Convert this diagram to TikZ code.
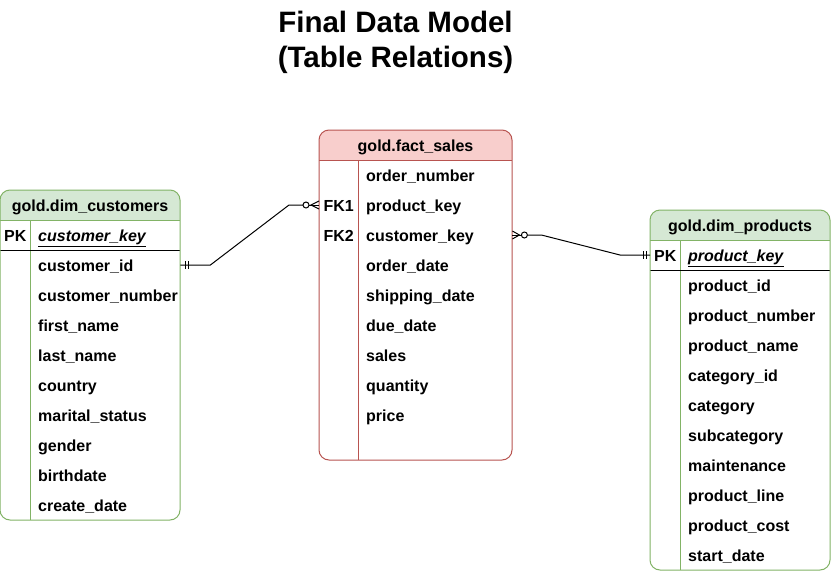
\documentclass[tikz,border=0pt]{standalone}
\usepackage{fontspec}
\setmainfont{Liberation Sans}
\usetikzlibrary{calc,positioning}

\definecolor{custfill}{HTML}{D5E8D4}
\definecolor{custline}{HTML}{82B366}
\definecolor{factfill}{HTML}{F8CECC}
\definecolor{factline}{HTML}{B85450}

\newcommand{\fieldfont}{\fontsize{16}{19}\selectfont\bfseries}

\begin{document}
\begin{tikzpicture}[x=1pt,y=-1pt,
    field/.style={anchor=west, inner xsep=0pt, inner ysep=0pt, align=left,
        text width=#1, text height=13.5pt, text depth=1.5pt,
        execute at begin node=\hspace*{8pt}, font=\fieldfont},
    keycell/.style={anchor=west, minimum width=#1, inner sep=0pt,
        text height=13.5pt, text depth=1.5pt, font=\fieldfont},
    head/.style={font=\fieldfont, inner sep=0pt, text height=13.5pt, text depth=1.5pt},
    conn/.style={line width=1pt, black},
    notch/.style={line width=1pt, black}]

    \fill[white] (0,0) rectangle (831,571);
    \useasboundingbox (0,0) rectangle (831,571);

    % title
    \node[align=center, font=\fontsize{29.5}{35}\selectfont\bfseries] (title) at (395.5,42)
        {Final Data Model\\(Table Relations)};

    % gold.dim_customers
    \begin{scope}
        \clip[rounded corners=10pt] (0,190) rectangle (180,520);
        \fill[custfill] (0,190) rectangle (180,220);
    \end{scope}
    \draw[custline, line width=1pt] (0,220) -- (180,220);
    \draw[custline, line width=1pt] (30,220) -- (30,520);
    \draw[black, line width=1pt] (0,250) -- (180,250);
    \draw[custline, line width=1pt, rounded corners=10pt] (0,190) rectangle (180,520);
    \node[head] (custhead) at (90,205) {gold.dim\_customers};
    \node[keycell=30pt] (custpk) at (0,235) {PK};
    \node[field=150pt] (custkey) at (30,235) {\underline{\textit{customer\_key}}};
    \foreach \txt [count=\i] in {customer\_id, customer\_number, first\_name, last\_name,
        country, marital\_status, gender, birthdate, create\_date}
        \node[field=150pt] (cust\i) at (30,235+30*\i) {\txt};

    % gold.fact_sales
    \begin{scope}
        \clip[rounded corners=10pt] (319,130) rectangle (512,460);
        \fill[factfill] (319,130) rectangle (512,160);
    \end{scope}
    \draw[factline, line width=1pt] (319,160) -- (512,160);
    \draw[factline, line width=1pt] (358,160) -- (358,460);
    \draw[factline, line width=1pt, rounded corners=10pt] (319,130) rectangle (512,460);
    \node[head] (facthead) at (415.5,145) {gold.fact\_sales};
    \node[keycell=39pt] (fk1) at (319,205) {FK1};
    \node[keycell=39pt] (fk2) at (319,235) {FK2};
    \foreach \txt [count=\i] in {order\_number, product\_key, customer\_key, order\_date,
        shipping\_date, due\_date, sales, quantity, price}
        \node[field=154pt] (fact\i) at (358,145+30*\i) {\txt};

    % gold.dim_products
    \begin{scope}
        \clip[rounded corners=10pt] (650,210) rectangle (830,570);
        \fill[custfill] (650,210) rectangle (830,240);
    \end{scope}
    \draw[custline, line width=1pt] (650,240) -- (830,240);
    \draw[custline, line width=1pt] (680,240) -- (680,570);
    \draw[black, line width=1pt] (650,270) -- (830,270);
    \draw[custline, line width=1pt, rounded corners=10pt] (650,210) rectangle (830,570);
    \node[head] (prodhead) at (740,225) {gold.dim\_products};
    \node[keycell=30pt] (prodpk) at (650,255) {PK};
    \node[field=150pt] (prodkey) at (680,255) {\underline{\textit{product\_key}}};
    \foreach \txt [count=\i] in {product\_id, product\_number, product\_name, category\_id,
        category, subcategory, maintenance, product\_line, product\_cost, start\_date}
        \node[field=150pt] (prod\i) at (680,255+30*\i) {\txt};

    % customers -> fact_sales
    \draw[conn] (cust1.east) -- ++(30,0) -- ($(fk1.west)+(-30,0)$) -- ($(fk1.west)+(-16,0)$);
    \draw[notch] ($(cust1.east)+(5,-4)$) -- ++(0,8);
    \draw[notch] ($(cust1.east)+(8,-4)$) -- ++(0,8);
    \draw[notch] ($(fk1.west)+(-10,0)$) -- (fk1.west);
    \draw[notch] ($(fk1.west)+(0,-4)$) -- ($(fk1.west)+(-8,0)$) -- ($(fk1.west)+(0,4)$);
    \draw[notch, fill=white] ($(fk1.west)+(-13,0)$) circle[radius=3pt];

    % fact_sales -> products
    \draw[conn] ($(fact3.east)+(15,0)$) -- ++(14,0) -- ($(prodpk.west)+(-30,0)$) -- (prodpk.west);
    \draw[notch] (fact3.east) -- ++(10,0);
    \draw[notch] ($(fact3.east)+(0,-4)$) -- ($(fact3.east)+(7,0)$) -- ($(fact3.east)+(0,4)$);
    \draw[notch, fill=white] ($(fact3.east)+(12,0)$) circle[radius=3pt];
    \draw[notch] ($(prodpk.west)+(-7,-4)$) -- ++(0,8);
    \draw[notch] ($(prodpk.west)+(-4,-4)$) -- ++(0,8);

\end{tikzpicture}
\end{document}
